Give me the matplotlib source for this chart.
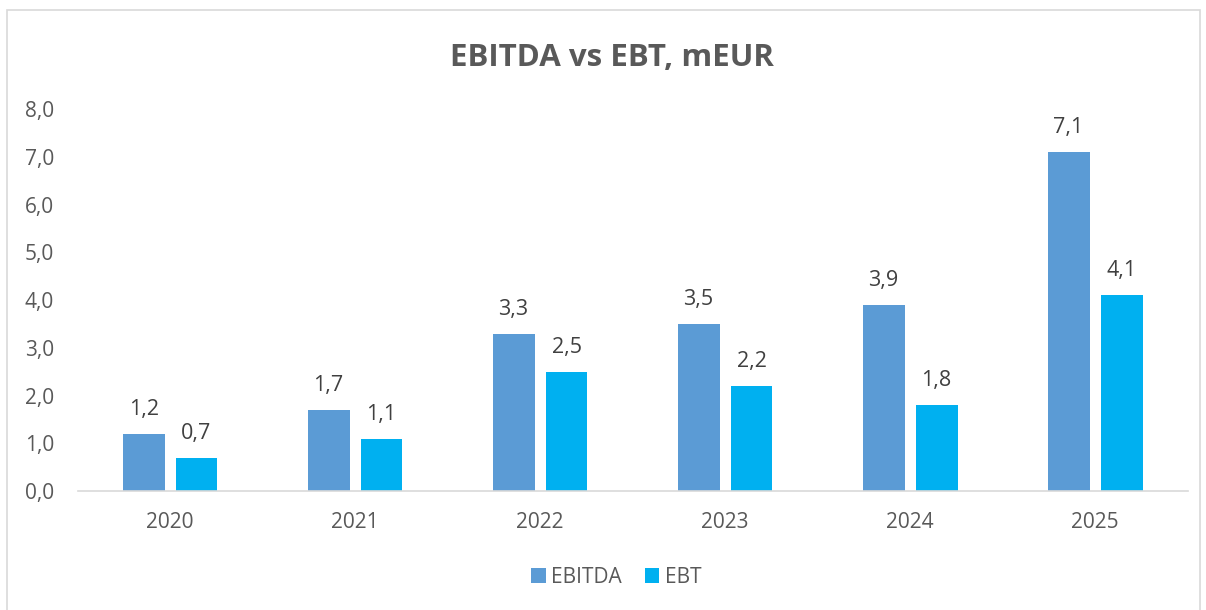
import numpy as np
import matplotlib
matplotlib.use("Agg")
from matplotlib import pyplot as plt
from matplotlib.patches import Rectangle

plt.rcParams["font.family"] = ["Open Sans", "DejaVu Sans"]

years = ["2020", "2021", "2022", "2023", "2024", "2025"]
ebitda = [1.2, 1.7, 3.3, 3.5, 3.9, 7.1]
ebt = [0.7, 1.1, 2.5, 2.2, 1.8, 4.1]

C_EBITDA = "#5B9BD5"
C_EBT = "#00B0F0"
TXT = "#595959"

fig = plt.figure(figsize=(12.06, 6.10), dpi=100)
ax = fig.add_axes([0.0643, 0.195, 0.9204, 0.626])

x = np.arange(len(years))
w = 0.227
off = 0.143
b1 = ax.bar(x - off, ebitda, w, color=C_EBITDA, label="EBITDA")
b2 = ax.bar(x + off, ebt, w, color=C_EBT, label="EBT")

for bars, vals in [(b1, ebitda), (b2, ebt)]:
    for r, v in zip(bars, vals):
        ax.annotate(f"{v:.1f}".replace(".", ","), (r.get_x() + r.get_width() / 2, v),
                    xytext=(0, 10), textcoords="offset points", ha="center", va="bottom",
                    fontsize=15.5, color="#404040")

ax.set_xlim(-0.5, 5.5)
ax.set_ylim(0, 8)
ax.set_yticks(np.arange(0, 9, 1))
ax.set_yticklabels([f"{v:.1f}".replace(".", ",") for v in range(9)])
ax.set_xticks(x)
ax.set_xticklabels(years)
ax.tick_params(axis="both", length=0, labelsize=15, labelcolor=TXT)
ax.tick_params(axis="x", pad=15)
ax.tick_params(axis="y", pad=17)
for s in ["top", "right", "left"]:
    ax.spines[s].set_visible(False)
ax.spines["bottom"].set_color("#d9d9d9")
ax.spines["bottom"].set_linewidth(1.2)

fig.text(0.507, 0.905, "EBITDA vs EBT, mEUR", ha="center", va="center",
         fontsize=22.5, fontweight="bold", color=TXT)

leg = fig.legend(loc="center", bbox_to_anchor=(0.511, 0.054), ncol=2, frameon=False,
                 fontsize=15, handlelength=0.7, handleheight=0.7, handletextpad=0.25,
                 columnspacing=1.1)
for t in leg.get_texts():
    t.set_color(TXT)

fig.patches.append(Rectangle((7 / 1206, -0.01), (1200 - 7) / 1206, 1 - 10 / 610 + 0.01,
                             transform=fig.transFigure, fill=False, edgecolor="#d9d9d9",
                             linewidth=1.2))

fig.savefig("out.png", dpi=100)
